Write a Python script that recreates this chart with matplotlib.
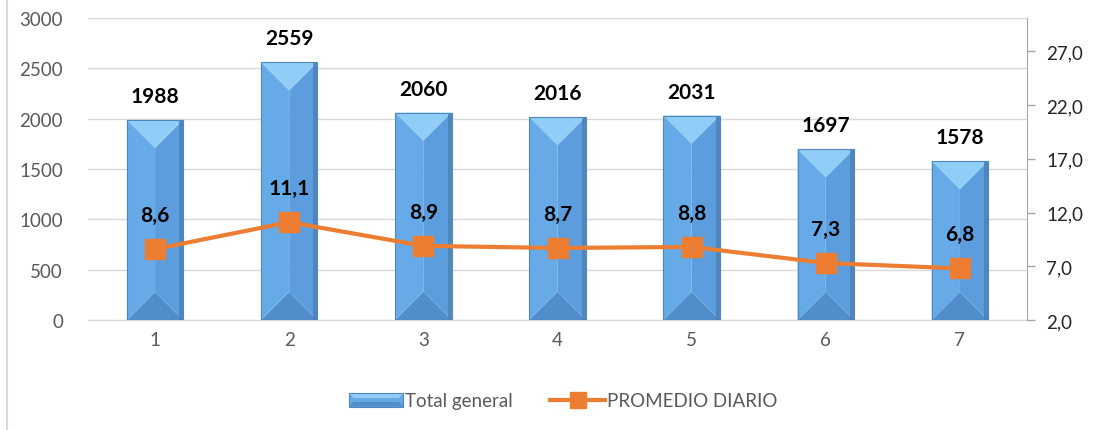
import matplotlib
matplotlib.use("Agg")
import matplotlib.pyplot as plt
from matplotlib.patches import Polygon, Rectangle
from matplotlib.lines import Line2D
from matplotlib.legend_handler import HandlerBase
import numpy as np

categories = ["1", "2", "3", "4", "5", "6", "7"]
total_general = [1988, 2559, 2060, 2016, 2031, 1697, 1578]
promedio_diario = [8.6, 11.1, 8.9, 8.7, 8.8, 7.3, 6.8]
right_ticks = [2, 7, 12, 17, 22, 27]
left_ticks = [0, 500, 1000, 1500, 2000, 2500, 3000]

plt.rcParams['font.family'] = ['Lato', 'DejaVu Sans']

W, H = 1099, 431
fig = plt.figure(figsize=(W / 100, H / 100), dpi=100)
ax = fig.add_axes([88 / W, 1 - 321 / H, (1027 - 88) / W, (321 - 19) / H])
ax2 = ax.twinx()

x = np.arange(1, len(categories) + 1)
ax.set_xlim(0.5, len(categories) + 0.5)
ax.set_ylim(0, 3000)
ax2.set_ylim(2, 30.1)

bar_w = 0.42
# pixel -> data conversions
px_x = (len(categories)) / (1027 - 88)
px_y = 3000 / (321 - 19)

c_top = "#90cdf7"
c_left = "#66abe8"
c_right = "#5c9edd"
c_bottom = "#4f8dcb"

for xi, v in zip(x, total_general):
    x0, x1 = xi - bar_w / 2, xi + bar_w / 2
    xc = xi
    y0, y1 = 0, v
    d = (bar_w / 2) / px_x * px_y
    polys = [
        ([(x0, y1), (x1, y1), (xc, y1 - d)], c_top),
        ([(x0, y0), (x1, y0), (xc, y0 + d)], c_bottom),
        ([(x0, y0), (xc, y0 + d), (xc, y1 - d), (x0, y1)], c_left),
        ([(xc, y0 + d), (x1, y0), (x1, y1), (xc, y1 - d)], c_right),
    ]
    for pts, col in polys:
        ax.add_patch(Polygon(pts, closed=True, facecolor=col, edgecolor='none', zorder=3))
    # darker right edge strip
    ax.add_patch(Rectangle((x1 - 4 * px_x, y0), 4 * px_x, v, facecolor="#4a7fb4",
                           edgecolor='none', alpha=0.8, zorder=3.1))
    ax.add_patch(Rectangle((x0, y0), bar_w, v, facecolor='none', edgecolor="#4f86bd",
                           linewidth=0.8, zorder=3.2))
    ax.annotate(f"{v}", (xi, v), xytext=(0, 24), textcoords='offset pixels',
                ha='center', va='center', fontsize=15, fontweight='bold', color='black',
                zorder=6)

ax2.plot(x, promedio_diario, color="#ED7D31", linewidth=3.0, marker='s', markersize=14,
         markerfacecolor="#ED7D31", markeredgecolor="#ED7D31", zorder=5)
for xi, v in zip(x, promedio_diario):
    ax2.annotate(f"{v:.1f}".replace('.', ','), (xi, v), xytext=(0, 34),
                 textcoords='offset pixels', ha='center', va='center', fontsize=15,
                 fontweight='bold', color='black', zorder=6)

ax.set_zorder(1)
ax2.set_zorder(2)
ax.patch.set_visible(False)
ax2.patch.set_visible(False)

ax.set_yticks(left_ticks)
ax.set_yticklabels([str(t) for t in left_ticks])
ax.yaxis.grid(True, color="#d9d9d9", linewidth=1)
ax.set_axisbelow(True)
ax.tick_params(axis='y', length=0, pad=18, labelsize=13.5, labelcolor="#595959")
ax.set_xticks(x)
ax.set_xticklabels(categories)
ax.tick_params(axis='x', length=0, pad=8, labelsize=13.5, labelcolor="#595959")
for s in ['top', 'left', 'right']:
    ax.spines[s].set_visible(False)
ax.spines['bottom'].set_color("#d9d9d9")

ax2.set_yticks(right_ticks)
ax2.set_yticklabels([f"{t:.1f}".replace('.', ',') for t in right_ticks])
ax2.tick_params(axis='y', length=6, width=1, color="#a6a6a6", pad=8, labelsize=13.5,
                labelcolor="#262626")
for s in ['top', 'left', 'bottom']:
    ax2.spines[s].set_visible(False)
ax2.spines['right'].set_color("#a6a6a6")


class BevelHandler(HandlerBase):
    def create_artists(self, legend, orig_handle, xdescent, ydescent, width, height,
                       fontsize, trans):
        x0, y0 = -xdescent, -ydescent
        x1, y1 = x0 + width, y0 + height
        b = height * 0.35
        arts = [
            Polygon([(x0, y0), (x1, y0), (x1, y1), (x0, y1)], facecolor=c_left, edgecolor='none'),
            Polygon([(x0, y1), (x1, y1), (x1 - b, y1 - b), (x0 + b, y1 - b)], facecolor=c_top, edgecolor='none'),
            Polygon([(x0, y0), (x1, y0), (x1 - b, y0 + b), (x0 + b, y0 + b)], facecolor=c_bottom, edgecolor='none'),
            Rectangle((x0, y0), width, height, facecolor='none', edgecolor="#4f86bd", linewidth=0.8),
        ]
        for a in arts:
            a.set_transform(trans)
        return arts


bar_handle = Rectangle((0, 0), 1, 1)
line_handle = Line2D([], [], color="#ED7D31", linewidth=3.0, marker='s', markersize=12)
leg = fig.legend([bar_handle, line_handle], ["Total general", "PROMEDIO DIARIO"],
                 loc='center', bbox_to_anchor=(563 / W, 1 - 402 / H), ncol=2, frameon=False,
                 fontsize=13.5, handlelength=2.9, handletextpad=0.1, columnspacing=2.0,
                 handler_map={Rectangle: BevelHandler()})
for t in leg.get_texts():
    t.set_color("#595959")

fig.add_artist(Line2D([7 / W, 7 / W], [0, 1], color="#d9d9d9", linewidth=1.5,
                      transform=fig.transFigure))

fig.savefig("out.png", dpi=100)
